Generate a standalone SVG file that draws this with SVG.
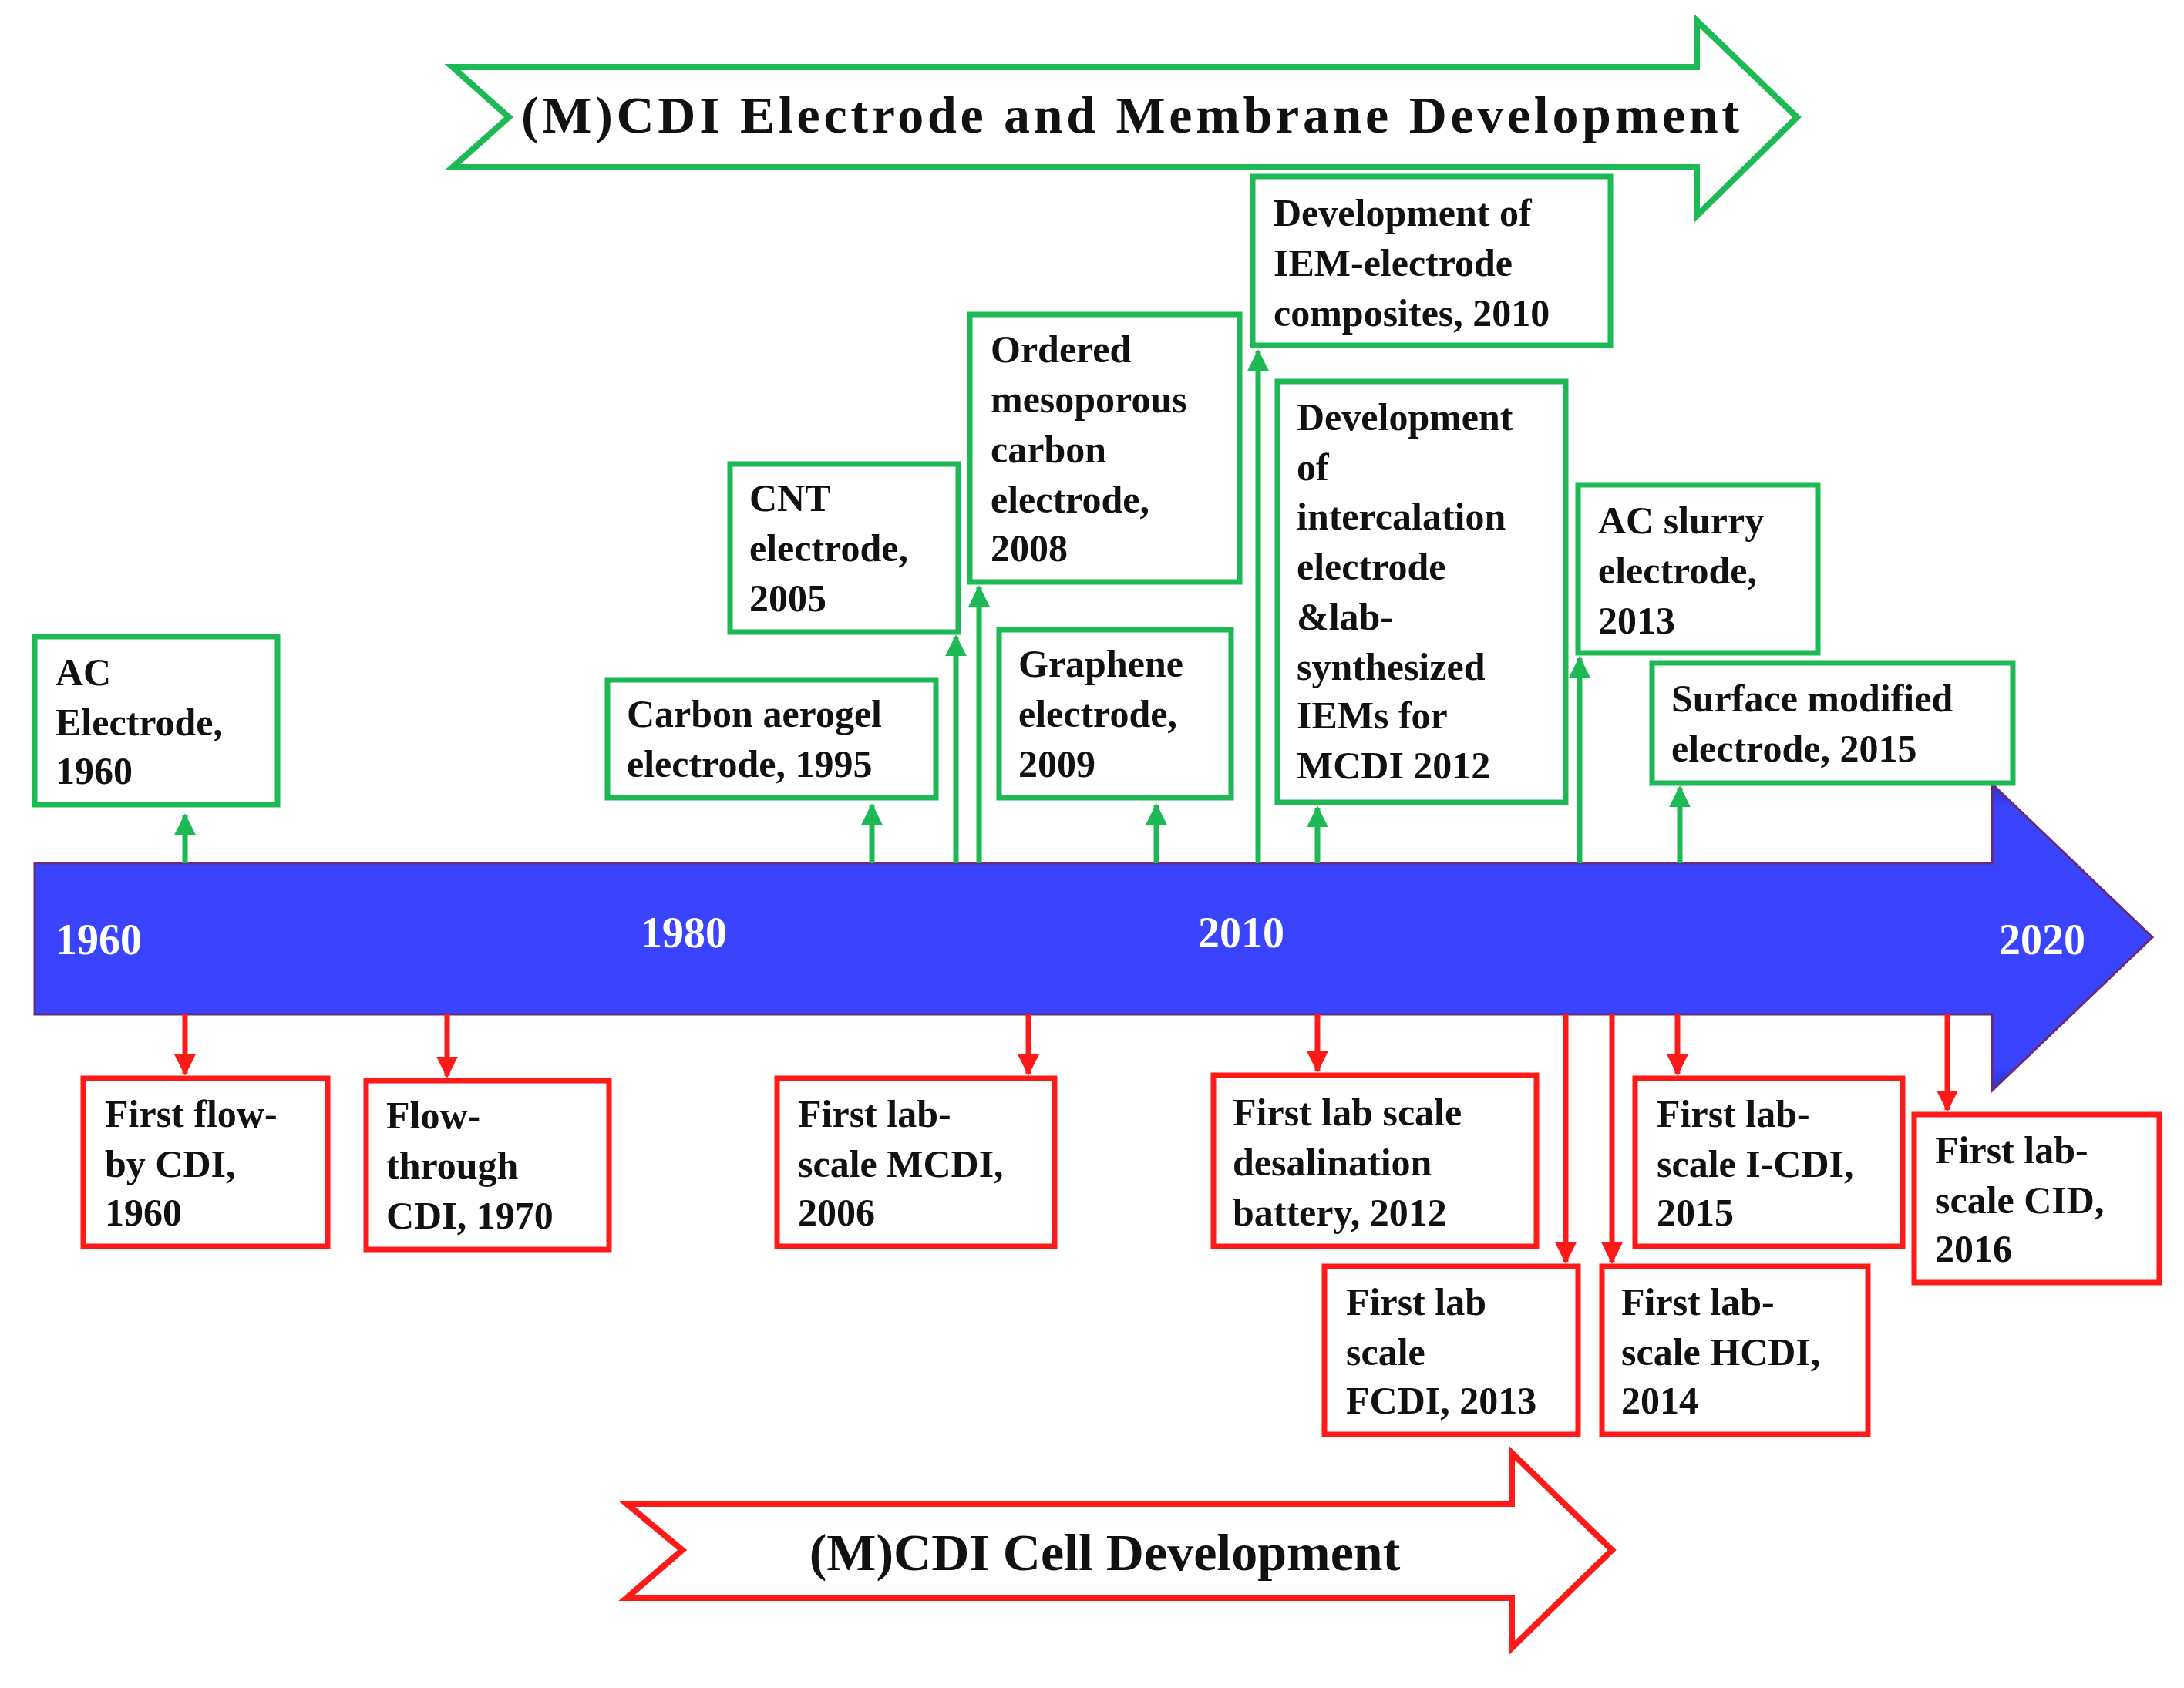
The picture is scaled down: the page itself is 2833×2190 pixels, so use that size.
<svg xmlns="http://www.w3.org/2000/svg" width="2833" height="2190" viewBox="0 0 2833 2190">
<style>
.g{fill:#fff;stroke:#1db954;stroke-width:7}
.r{fill:#fff;stroke:#ff1a1a;stroke-width:7}
.t{font-family:"Liberation Serif",serif;font-weight:bold;font-size:50px;fill:#111}
.y{font-family:"Liberation Serif",serif;font-weight:bold;font-size:56px;fill:#fff}
.big{font-family:"Liberation Serif",serif;font-weight:bold;font-size:68px;fill:#111}
.gl{stroke:#1db954;stroke-width:7;fill:none;marker-end:url(#ga)}
.rl{stroke:#ff1a1a;stroke-width:7;fill:none;marker-end:url(#ra)}
</style>
<defs>
<marker id="ga" viewBox="0 0 10 10" refX="9" refY="5" markerWidth="4" markerHeight="4.5" orient="auto" markerUnits="strokeWidth"><path d="M0,0L10,5L0,10z" fill="#1db954"/></marker>
<marker id="ra" viewBox="0 0 10 10" refX="9" refY="5" markerWidth="4" markerHeight="4.5" orient="auto" markerUnits="strokeWidth"><path d="M0,0L10,5L0,10z" fill="#ff1a1a"/></marker>
<linearGradient id="bg" x1="0" y1="0" x2="0" y2="1"><stop offset="0" stop-color="#2a30c8"/><stop offset="0.08" stop-color="#3a44ff"/><stop offset="0.92" stop-color="#3a44ff"/><stop offset="1" stop-color="#2a30c8"/></linearGradient>
</defs>
<rect width="2833" height="2190" fill="#fff"/>
<g id="top-arrow">
<path d="M587,87L2201,87L2201,27L2331,152L2201,280L2201,217L587,217L660,152Z" fill="#fff" stroke="#1db954" stroke-width="8"/>
<text class="big" x="1466" y="172" text-anchor="middle" textLength="1580" lengthAdjust="spacing">(M)CDI Electrode and Membrane Development</text>
</g>
<g id="bottom-arrow">
<path d="M813,1951L1961,1951L1961,1885L2091,2011L1961,2138L1961,2073L813,2073L885,2011Z" fill="#fff" stroke="#ff1a1a" stroke-width="8"/>
<text class="big" x="1433" y="2037" text-anchor="middle">(M)CDI Cell Development</text>
</g>
<g id="timeline">
<path d="M45,1120L2584,1120L2584,1017L2792,1216L2584,1415L2584,1316L45,1316Z" fill="url(#bg)" stroke="#6a2a7a" stroke-width="3"/>
<text class="y" x="72" y="1238">1960</text>
<text class="y" x="831" y="1229">1980</text>
<text class="y" x="1554" y="1229">2010</text>
<text class="y" x="2593" y="1238">2020</text>
</g>
<g id="connectors">
<line class="gl" x1="240" y1="1120" x2="240" y2="1058"/>
<line class="gl" x1="1131" y1="1120" x2="1131" y2="1045"/>
<line class="gl" x1="1240" y1="1120" x2="1240" y2="826"/>
<line class="gl" x1="1270" y1="1120" x2="1270" y2="762"/>
<line class="gl" x1="1500" y1="1120" x2="1500" y2="1045"/>
<line class="gl" x1="1632" y1="1120" x2="1632" y2="456"/>
<line class="gl" x1="1709" y1="1120" x2="1709" y2="1048"/>
<line class="gl" x1="2049" y1="1120" x2="2049" y2="854"/>
<line class="gl" x1="2179" y1="1120" x2="2179" y2="1022"/>
<line class="rl" x1="240" y1="1316" x2="240" y2="1393"/>
<line class="rl" x1="580" y1="1316" x2="580" y2="1396"/>
<line class="rl" x1="1334" y1="1316" x2="1334" y2="1393"/>
<line class="rl" x1="1709" y1="1316" x2="1709" y2="1389"/>
<line class="rl" x1="2031" y1="1316" x2="2031" y2="1637"/>
<line class="rl" x1="2091" y1="1316" x2="2091" y2="1637"/>
<line class="rl" x1="2176" y1="1316" x2="2176" y2="1393"/>
<line class="rl" x1="2526" y1="1316" x2="2526" y2="1440"/>
</g>
<g id="g1"><rect class="g" x="45" y="826" width="315" height="218"/><text class="t"><tspan x="72" y="889">AC</tspan><tspan x="72" y="954">Electrode,</tspan><tspan x="72" y="1017">1960</tspan></text></g>
<g id="g2"><rect class="g" x="788" y="882" width="426" height="153"/><text class="t"><tspan x="813" y="943">Carbon aerogel</tspan><tspan x="813" y="1008">electrode, 1995</tspan></text></g>
<g id="g3"><rect class="g" x="947" y="602" width="296" height="218"/><text class="t"><tspan x="972" y="663">CNT</tspan><tspan x="972" y="728">electrode,</tspan><tspan x="972" y="793">2005</tspan></text></g>
<g id="g4"><rect class="g" x="1258" y="408" width="350" height="347"/><text class="t"><tspan x="1285" y="470">Ordered</tspan><tspan x="1285" y="535">mesoporous</tspan><tspan x="1285" y="600">carbon</tspan><tspan x="1285" y="665">electrode,</tspan><tspan x="1285" y="728">2008</tspan></text></g>
<g id="g5"><rect class="g" x="1296" y="817" width="301" height="218"/><text class="t"><tspan x="1321" y="878">Graphene</tspan><tspan x="1321" y="943">electrode,</tspan><tspan x="1321" y="1008">2009</tspan></text></g>
<g id="g6"><rect class="g" x="1625" y="229" width="464" height="219"/><text class="t"><tspan x="1652" y="293">Development of</tspan><tspan x="1652" y="358">IEM-electrode</tspan><tspan x="1652" y="423">composites, 2010</tspan></text></g>
<g id="g7"><rect class="g" x="1657" y="495" width="374" height="546"/><text class="t"><tspan x="1682" y="558">Development</tspan><tspan x="1682" y="623">of</tspan><tspan x="1682" y="687">intercalation</tspan><tspan x="1682" y="752">electrode</tspan><tspan x="1682" y="817">&amp;lab-</tspan><tspan x="1682" y="882">synthesized</tspan><tspan x="1682" y="945">IEMs for</tspan><tspan x="1682" y="1010">MCDI 2012</tspan></text></g>
<g id="g8"><rect class="g" x="2047" y="629" width="311" height="218"/><text class="t"><tspan x="2073" y="692">AC slurry</tspan><tspan x="2073" y="757">electrode,</tspan><tspan x="2073" y="822">2013</tspan></text></g>
<g id="g9"><rect class="g" x="2143" y="860" width="468" height="156"/><text class="t"><tspan x="2168" y="923">Surface modified</tspan><tspan x="2168" y="988">electrode, 2015</tspan></text></g>
<g id="r1"><rect class="r" x="108" y="1399" width="317" height="218"/><text class="t"><tspan x="136" y="1462">First flow-</tspan><tspan x="136" y="1527">by CDI,</tspan><tspan x="136" y="1590">1960</tspan></text></g>
<g id="r2"><rect class="r" x="475" y="1402" width="315" height="219"/><text class="t"><tspan x="501" y="1464">Flow-</tspan><tspan x="501" y="1529">through</tspan><tspan x="501" y="1594">CDI, 1970</tspan></text></g>
<g id="r3"><rect class="r" x="1008" y="1399" width="360" height="218"/><text class="t"><tspan x="1035" y="1462">First lab-</tspan><tspan x="1035" y="1527">scale MCDI,</tspan><tspan x="1035" y="1590">2006</tspan></text></g>
<g id="r4"><rect class="r" x="1574" y="1395" width="419" height="222"/><text class="t"><tspan x="1599" y="1460">First lab scale</tspan><tspan x="1599" y="1525">desalination</tspan><tspan x="1599" y="1590">battery, 2012</tspan></text></g>
<g id="r5"><rect class="r" x="1718" y="1643" width="329" height="218"/><text class="t"><tspan x="1746" y="1706">First lab</tspan><tspan x="1746" y="1771">scale</tspan><tspan x="1746" y="1834">FCDI, 2013</tspan></text></g>
<g id="r6"><rect class="r" x="2078" y="1643" width="345" height="218"/><text class="t"><tspan x="2103" y="1706">First lab-</tspan><tspan x="2103" y="1771">scale HCDI,</tspan><tspan x="2103" y="1834">2014</tspan></text></g>
<g id="r7"><rect class="r" x="2121" y="1399" width="347" height="218"/><text class="t"><tspan x="2149" y="1462">First lab-</tspan><tspan x="2149" y="1527">scale I-CDI,</tspan><tspan x="2149" y="1590">2015</tspan></text></g>
<g id="r8"><rect class="r" x="2483" y="1446" width="318" height="218"/><text class="t"><tspan x="2510" y="1509">First lab-</tspan><tspan x="2510" y="1574">scale CID,</tspan><tspan x="2510" y="1637">2016</tspan></text></g>
</svg>
